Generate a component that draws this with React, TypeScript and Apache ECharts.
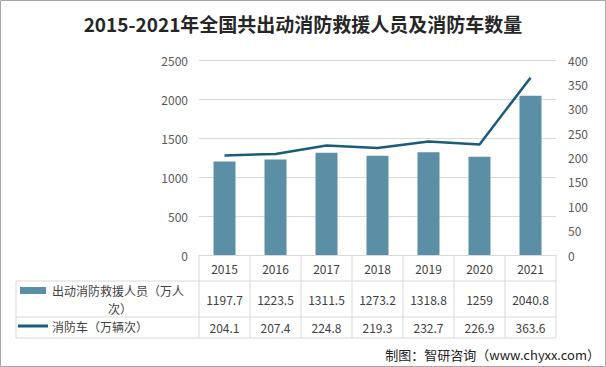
import React, { useEffect, useRef } from "react";
import * as echarts from "echarts";

const years = ["2015", "2016", "2017", "2018", "2019", "2020", "2021"];
const personnel = [1197.7, 1223.5, 1311.5, 1273.2, 1318.8, 1259, 2040.8];
const vehicles = [204.1, 207.4, 224.8, 219.3, 232.7, 226.9, 363.6];
const personnelLabels = ["1197.7", "1223.5", "1311.5", "1273.2", "1318.8", "1259", "2040.8"];
const vehicleLabels = ["204.1", "207.4", "224.8", "219.3", "232.7", "226.9", "363.6"];

const W = 606;
const H = 367;
const GL = 199;
const GR = 50;
const GT = 60;
const GB = 112;

const BAR = "#5b8fa5";
const LINE = "#1a5c78";
const TXT = "#404040";
const GRIDC = "#d9d9d9";
const FONT = "'Noto Sans CJK SC', 'Noto Sans', sans-serif";

export default function App() {
  const ref = useRef<HTMLDivElement>(null);
  useEffect(() => {
    document.body.style.margin = "0";
    const chart = echarts.init(ref.current!, null, { renderer: "svg" });
    const plotW = W - GL - GR;
    const colW = plotW / years.length;
    const axisY = H - GB;
    const row1 = 281;
    const row2 = 317;
    const row3 = 338;
    const tableLeft = 16;
    const right = GL + plotW;

    const g: any[] = [];
    for (let i = 0; i <= years.length; i++) {
      const x = GL + i * colW;
      g.push({ type: "line", shape: { x1: x, y1: axisY, x2: x, y2: row3 }, style: { stroke: GRIDC, lineWidth: 1 } });
    }
    [row1, row2, row3].forEach((y) => {
      g.push({ type: "line", shape: { x1: tableLeft, y1: y, x2: right, y2: y }, style: { stroke: GRIDC, lineWidth: 1 } });
    });
    g.push({ type: "line", shape: { x1: tableLeft, y1: row1, x2: tableLeft, y2: row3 }, style: { stroke: GRIDC, lineWidth: 1 } });

    years.forEach((yr, i) => {
      const cx = GL + (i + 0.5) * colW;
      g.push({ type: "text", x: cx, y: (axisY + row1) / 2, style: { text: yr, fill: TXT, font: `12px ${FONT}`, textAlign: "center", textVerticalAlign: "middle" } });
      g.push({ type: "text", x: cx, y: (row1 + row2) / 2, style: { text: personnelLabels[i], fill: TXT, font: `12px ${FONT}`, textAlign: "center", textVerticalAlign: "middle" } });
      g.push({ type: "text", x: cx, y: (row2 + row3) / 2, style: { text: vehicleLabels[i], fill: TXT, font: `12px ${FONT}`, textAlign: "center", textVerticalAlign: "middle" } });
    });

    g.push({ type: "rect", shape: { x: 20, y: 287, width: 26, height: 7 }, style: { fill: BAR } });
    g.push({ type: "text", x: 52, y: 290, style: { text: "出动消防救援人员（万人", fill: TXT, font: `12px ${FONT}`, textAlign: "left", textVerticalAlign: "middle" } });
    g.push({ type: "text", x: 120, y: 308, style: { text: "次）", fill: TXT, font: `12px ${FONT}`, textAlign: "center", textVerticalAlign: "middle" } });
    g.push({ type: "line", shape: { x1: 18, y1: 326, x2: 48, y2: 326 }, style: { stroke: LINE, lineWidth: 3 } });
    g.push({ type: "text", x: 52, y: 326, style: { text: "消防车（万辆次）", fill: TXT, font: `12px ${FONT}`, textAlign: "left", textVerticalAlign: "middle" } });

    g.push({ type: "text", x: 600, y: 354, style: { text: "制图：智研咨询（www.chyxx.com）", fill: "#222", font: `13px ${FONT}`, textAlign: "right", textVerticalAlign: "middle" } });

    g.push({ type: "rect", shape: { x: 0.5, y: 0.5, width: W - 1, height: H - 1 }, style: { fill: "none", stroke: "#a6a6a6", lineWidth: 1 }, z: 100 });

    chart.setOption({
      animation: false,
      backgroundColor: "#ffffff",
      title: {
        text: "2015-2021年全国共出动消防救援人员及消防车数量",
        left: "center",
        top: 9,
        textStyle: { fontFamily: FONT, fontSize: 19, fontWeight: "bold", color: "#262626" },
      },
      grid: { left: GL, right: GR, top: GT, bottom: GB, containLabel: false },
      xAxis: {
        type: "category",
        data: years,
        axisLine: { show: true, lineStyle: { color: GRIDC } },
        axisTick: { show: false },
        axisLabel: { show: false },
      },
      yAxis: [
        {
          type: "value",
          min: 0,
          max: 2500,
          interval: 500,
          axisLine: { show: false },
          axisTick: { show: false },
          axisLabel: { color: "#595959", fontSize: 12, fontFamily: FONT, margin: 11, formatter: (v: number) => String(v) },
          splitLine: { lineStyle: { color: GRIDC } },
        },
        {
          type: "value",
          min: 0,
          max: 400,
          interval: 50,
          axisLine: { show: false },
          axisTick: { show: false },
          axisLabel: { color: "#595959", fontSize: 12, fontFamily: FONT, margin: 12, formatter: (v: number) => String(v) },
          splitLine: { show: false },
        },
      ],
      series: [
        {
          name: "出动消防救援人员（万人次）",
          type: "bar",
          data: personnel,
          barWidth: 22,
          itemStyle: { color: BAR },
        },
        {
          name: "消防车（万辆次）",
          type: "line",
          yAxisIndex: 1,
          data: vehicles,
          symbol: "none",
          lineStyle: { color: LINE, width: 2.5 },
          itemStyle: { color: LINE },
        },
      ],
      graphic: g,
    });
    return () => chart.dispose();
  }, []);
  return <div ref={ref} style={{ width: W, height: H, position: "absolute", left: 0, top: 0 }} />;
}
